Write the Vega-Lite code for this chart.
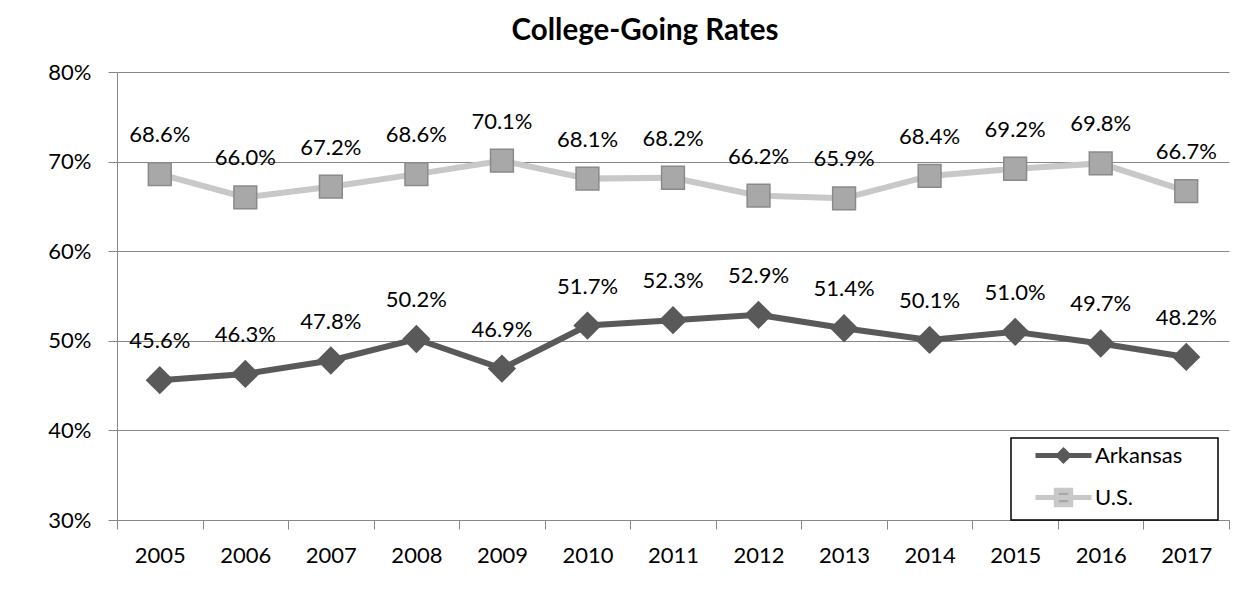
{
  "$schema": "https://vega.github.io/schema/vega-lite/v6.json",
  "autosize": {"type": "none"},
  "width": 1112,
  "height": 448,
  "padding": {"left": 117, "top": 72, "right": 22, "bottom": 86},
  "background": "white",
  "title": {
    "text": "College-Going Rates",
    "font": "Lato",
    "fontSize": 29.5,
    "fontWeight": "bold",
    "color": "black",
    "anchor": "middle",
    "frame": "group",
    "dx": -28,
    "offset": 15
  },
  "data": {
    "values": [
      {"year": "2005", "series": "Arkansas", "rate": 0.456},
      {"year": "2006", "series": "Arkansas", "rate": 0.463},
      {"year": "2007", "series": "Arkansas", "rate": 0.478},
      {"year": "2008", "series": "Arkansas", "rate": 0.502},
      {"year": "2009", "series": "Arkansas", "rate": 0.469},
      {"year": "2010", "series": "Arkansas", "rate": 0.517},
      {"year": "2011", "series": "Arkansas", "rate": 0.523},
      {"year": "2012", "series": "Arkansas", "rate": 0.529},
      {"year": "2013", "series": "Arkansas", "rate": 0.514},
      {"year": "2014", "series": "Arkansas", "rate": 0.501},
      {"year": "2015", "series": "Arkansas", "rate": 0.510},
      {"year": "2016", "series": "Arkansas", "rate": 0.497},
      {"year": "2017", "series": "Arkansas", "rate": 0.482},
      {"year": "2005", "series": "U.S.", "rate": 0.686},
      {"year": "2006", "series": "U.S.", "rate": 0.660},
      {"year": "2007", "series": "U.S.", "rate": 0.672},
      {"year": "2008", "series": "U.S.", "rate": 0.686},
      {"year": "2009", "series": "U.S.", "rate": 0.701},
      {"year": "2010", "series": "U.S.", "rate": 0.681},
      {"year": "2011", "series": "U.S.", "rate": 0.682},
      {"year": "2012", "series": "U.S.", "rate": 0.662},
      {"year": "2013", "series": "U.S.", "rate": 0.659},
      {"year": "2014", "series": "U.S.", "rate": 0.684},
      {"year": "2015", "series": "U.S.", "rate": 0.692},
      {"year": "2016", "series": "U.S.", "rate": 0.698},
      {"year": "2017", "series": "U.S.", "rate": 0.667}
    ]
  },
  "encoding": {
    "x": {
      "field": "year",
      "type": "ordinal",
      "scale": {"type": "band", "paddingInner": 0, "paddingOuter": 0},
      "axis": {
        "title": null,
        "labelAngle": 0,
        "labelFont": "Lato",
        "labelFontSize": 22,
        "labelColor": "black",
        "labelPadding": 16,
        "tickBand": "extent",
        "tickSize": 9,
        "tickColor": "#868686",
        "domainColor": "#868686",
        "grid": false
      }
    },
    "y": {
      "field": "rate",
      "type": "quantitative",
      "scale": {"domain": [0.3, 0.8], "nice": false, "zero": false},
      "axis": {
        "title": null,
        "values": [0.3, 0.4, 0.5, 0.6, 0.7, 0.8],
        "format": ".0%",
        "labelFont": "Lato",
        "labelFontSize": 22,
        "labelColor": "black",
        "labelPadding": 17,
        "tickSize": 9,
        "tickColor": "#868686",
        "domainColor": "#868686",
        "grid": true,
        "gridColor": "#868686",
        "gridWidth": 1
      }
    }
  },
  "layer": [
    {
      "mark": {"type": "line", "strokeWidth": 6},
      "encoding": {
        "color": {
          "field": "series",
          "type": "nominal",
          "scale": {"domain": ["Arkansas", "U.S."], "range": ["#595959", "#C8C8C8"]},
          "legend": {
            "title": " ",
            "titleOrient": "right",
            "titleFontSize": 2,
            "titlePadding": 31,
            "orient": "none",
            "legendX": 894,
            "legendY": 366,
            "strokeColor": "black",
            "padding": 5,
            "symbolOffset": 35,
            "labelOffset": 19,
            "rowPadding": 9,
            "labelFont": "Lato",
            "labelFontSize": 22,
            "labelColor": "black",
            "symbolSize": 400,
            "encode": {
              "legend": {"update": {"strokeWidth": {"value": 1.5}}},
              "symbols": {
                "update": {
                  "shape": {"signal": "datum.value === 'Arkansas' ? 'M-2.8,0L2.8,0M-0.5,0L0,-0.5L0.5,0L0,0.5Z' : 'M-2.8,0L2.8,0M-0.72,-0.72L0.72,-0.72L0.72,0.72L-0.72,0.72Z'"},
                  "fill": {"signal": "datum.value === 'Arkansas' ? '#595959' : '#A8A8A8'"},
                  "stroke": {"signal": "datum.value === 'Arkansas' ? '#595959' : '#C8C8C8'"},
                  "strokeWidth": {"value": 5},
                  "size": {"value": 400},
                  "opacity": {"value": 1}
                }
              }
            }
          }
        }
      }
    },
    {
      "transform": [{"filter": "datum.series === 'Arkansas'"}],
      "mark": {"type": "point", "shape": "diamond", "filled": true, "opacity": 1, "size": 800, "color": "#595959"}
    },
    {
      "transform": [{"filter": "datum.series === 'U.S.'"}],
      "mark": {"type": "point", "shape": "square", "filled": true, "opacity": 1, "size": 520, "fill": "#A8A8A8", "stroke": "#8A8A8A", "strokeWidth": 1.5}
    },
    {
      "mark": {"type": "text", "dy": -39, "baseline": "middle", "font": "Lato", "fontSize": 22, "color": "black"},
      "encoding": {
        "text": {"field": "rate", "type": "quantitative", "format": ".1%"}
      }
    }
  ],
  "config": {
    "view": {"stroke": null}
  }
}
